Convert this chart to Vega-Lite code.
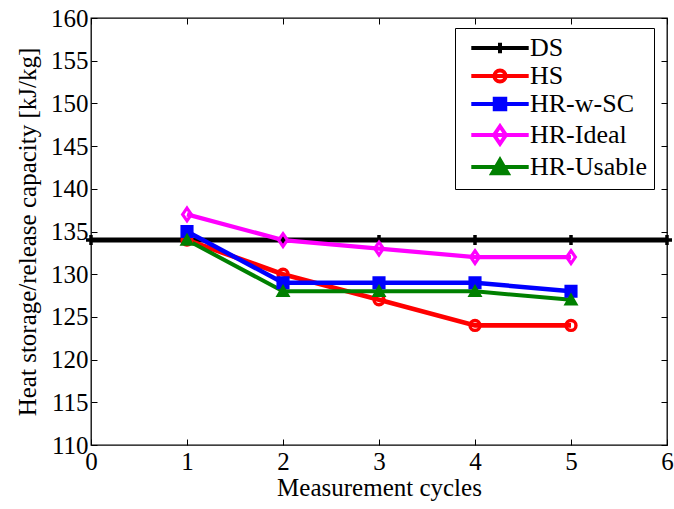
{
  "$schema": "https://vega.github.io/schema/vega-lite/v6.json",
  "width": 576,
  "height": 427,
  "autosize": {"type": "none"},
  "padding": {"left": 91, "top": 18, "right": 7, "bottom": 64},
  "background": "white",
  "config": {
    "font": "Liberation Serif",
    "view": {"stroke": "black", "strokeWidth": 1.3},
    "axis": {
      "labelFont": "Liberation Serif",
      "titleFont": "Liberation Serif",
      "labelFontSize": 25,
      "titleFontSize": 25,
      "labelColor": "black",
      "titleColor": "black",
      "titleFontWeight": "normal",
      "grid": false,
      "domain": false,
      "tickColor": "black",
      "tickSize": -6,
      "tickWidth": 1,
      "labelFlush": false
    },
    "legend": {
      "labelFont": "Liberation Serif",
      "labelFontSize": 26,
      "labelColor": "black"
    }
  },
  "data": {
    "values": [
      {"series": "DS", "cycle": 0, "value": 134},
      {"series": "DS", "cycle": 1, "value": 134},
      {"series": "DS", "cycle": 2, "value": 134},
      {"series": "DS", "cycle": 3, "value": 134},
      {"series": "DS", "cycle": 4, "value": 134},
      {"series": "DS", "cycle": 5, "value": 134},
      {"series": "DS", "cycle": 6, "value": 134},
      {"series": "HS", "cycle": 1, "value": 134},
      {"series": "HS", "cycle": 2, "value": 130},
      {"series": "HS", "cycle": 3, "value": 127},
      {"series": "HS", "cycle": 4, "value": 124},
      {"series": "HS", "cycle": 5, "value": 124},
      {"series": "HR-w-SC", "cycle": 1, "value": 135},
      {"series": "HR-w-SC", "cycle": 2, "value": 129},
      {"series": "HR-w-SC", "cycle": 3, "value": 129},
      {"series": "HR-w-SC", "cycle": 4, "value": 129},
      {"series": "HR-w-SC", "cycle": 5, "value": 128},
      {"series": "HR-Ideal", "cycle": 1, "value": 137},
      {"series": "HR-Ideal", "cycle": 2, "value": 134},
      {"series": "HR-Ideal", "cycle": 3, "value": 133},
      {"series": "HR-Ideal", "cycle": 4, "value": 132},
      {"series": "HR-Ideal", "cycle": 5, "value": 132},
      {"series": "HR-Usable", "cycle": 1, "value": 134},
      {"series": "HR-Usable", "cycle": 2, "value": 128},
      {"series": "HR-Usable", "cycle": 3, "value": 128},
      {"series": "HR-Usable", "cycle": 4, "value": 128},
      {"series": "HR-Usable", "cycle": 5, "value": 127}
    ]
  },
  "layer": [
    {
      "mark": {"type": "line", "clip": false},
      "encoding": {
        "x": {"field": "cycle", "type": "quantitative", "scale": {"domain": [0, 6], "nice": false},
              "axis": {"values": [0, 1, 2, 3, 4, 5, 6], "title": "Measurement cycles", "labelPadding": 10, "titlePadding": 1, "format": "d"}},
        "y": {"field": "value", "type": "quantitative", "scale": {"domain": [110, 160], "nice": false, "zero": false},
              "axis": {"values": [110, 115, 120, 125, 130, 135, 140, 145, 150, 155, 160], "title": "Heat storage/release capacity [kJ/kg]", "labelPadding": 9, "titlePadding": 10}},
        "color": {"field": "series", "type": "nominal",
                  "scale": {"domain": ["DS", "HS", "HR-w-SC", "HR-Ideal", "HR-Usable"], "range": ["#000000", "#ff0000", "#0000ff", "#ff00ff", "#008000"]},
                  "legend": null},
        "size": {"field": "series", "type": "nominal",
                 "scale": {"domain": ["DS", "HS", "HR-w-SC", "HR-Ideal", "HR-Usable"], "range": [5, 4, 4, 4, 4]},
                 "legend": null},
        "order": {"field": "cycle", "type": "quantitative"}
      }
    },
    {
      "mark": {"type": "point", "filled": false, "opacity": 1, "clip": false},
      "encoding": {
        "x": {"field": "cycle", "type": "quantitative", "axis": null},
        "y": {"field": "value", "type": "quantitative", "axis": null},
        "color": {"field": "series", "type": "nominal",
                  "scale": {"domain": ["DS", "HS", "HR-w-SC", "HR-Ideal", "HR-Usable"], "range": ["#000000", "#ff0000", "#0000ff", "#ff00ff", "#008000"]},
                  "legend": null},
        "shape": {"field": "series", "type": "nominal",
                  "scale": {"domain": ["DS", "HS", "HR-w-SC", "HR-Ideal", "HR-Usable"],
                            "range": ["M-1,0H1M0,-1V1", "circle", "M-1,-1H1V1H-1Z M-0.35,-0.35H0.35V0.35H-0.35Z", "M0,-1.3L0.9,0L0,1.3L-0.9,0Z", "M0,-0.866L1,0.866L-1,0.866Z M0,-0.3L0.35,0.45L-0.35,0.45Z"]},
                  "legend": null},
        "size": {"field": "series", "type": "nominal",
                 "scale": {"domain": ["DS", "HS", "HR-w-SC", "HR-Ideal", "HR-Usable"], "range": [100, 95, 90, 144, 250]},
                 "legend": null},
        "strokeWidth": {"field": "series", "type": "nominal",
                 "scale": {"domain": ["DS", "HS", "HR-w-SC", "HR-Ideal", "HR-Usable"], "range": [3.5, 3, 3.5, 3, 3.5]},
                 "legend": null}
      }
    },
    {
      "mark": {"type": "point", "filled": false, "opacity": 0, "strokeWidth": 4},
      "encoding": {
        "x": {"field": "cycle", "type": "quantitative",
              "axis": {"orient": "top", "values": [0, 1, 2, 3, 4, 5, 6], "labels": false, "title": null}},
        "y": {"field": "value", "type": "quantitative",
              "axis": {"orient": "right", "values": [110, 115, 120, 125, 130, 135, 140, 145, 150, 155, 160], "labels": false, "title": null}},
        "color": {"field": "series", "type": "nominal",
                  "scale": {"domain": ["DS", "HS", "HR-w-SC", "HR-Ideal", "HR-Usable"], "range": ["#000000", "#ff0000", "#0000ff", "#ff00ff", "#008000"]},
                  "legend": {"title": null, "orient": "none", "legendX": 364, "legendY": 10,
                             "strokeColor": "black", "fillColor": "white", "padding": 7,
                             "symbolSize": 196, "symbolStrokeWidth": 4, "symbolOpacity": 1,
                             "symbolOffset": 25, "labelOffset": 17, "rowPadding": 0}},
        "shape": {"field": "series", "type": "nominal",
                  "scale": {"domain": ["DS", "HS", "HR-w-SC", "HR-Ideal", "HR-Usable"],
                            "range": [
                              "M-4.1,0H4.1M0,-0.75V0.75",
                              "M-4.1,0H4.1M0.8,0A0.8,0.8 0 1,1 -0.8,0A0.8,0.8 0 1,1 0.8,0",
                              "M-4.1,0H4.1M-0.75,-0.75H0.75V0.75H-0.75Z M-0.3,-0.3H0.3V0.3H-0.3Z",
                              "M-4.1,0H4.1M0,-1.25L0.85,0L0,1.25L-0.85,0Z",
                              "M-4.1,0H4.1M0,-1.0L1.1,0.9L-1.1,0.9Z M0,-0.35L0.45,0.55L-0.45,0.55Z"
                            ]},
                  "legend": {"title": null, "orient": "none", "legendX": 364, "legendY": 10,
                             "strokeColor": "black", "fillColor": "white", "padding": 7,
                             "symbolSize": 196, "symbolStrokeWidth": 4, "symbolOpacity": 1,
                             "symbolOffset": 25, "labelOffset": 17, "rowPadding": 0}}
      }
    }
  ],
  "resolve": {
    "scale": {"color": "independent", "shape": "independent", "size": "independent", "strokeWidth": "independent"},
    "axis": {"x": "independent", "y": "independent"}
  }
}
